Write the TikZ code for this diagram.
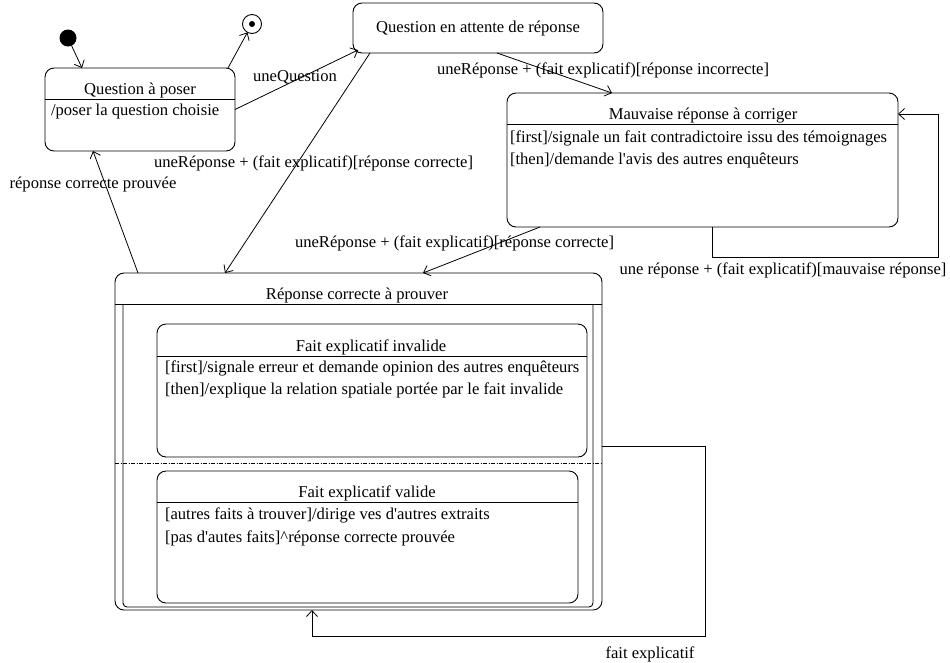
\documentclass[tikz,border=0pt]{standalone}
\usepackage{fontspec}
\setmainfont{Liberation Serif}
\usetikzlibrary{arrows.meta,calc}
\newcommand{\apos}{\textquotesingle}
\begin{document}
\begin{tikzpicture}[x=1pt,y=-1pt,
  every node/.style={inner sep=0pt, outer sep=0pt},
  lbl/.style={font=\fontsize{16.6}{19}\selectfont},
  statebox/.style={draw, rounded corners=9pt, line width=0.9pt},
  sepline/.style={line width=0.9pt},
  arr/.style={-{Straight Barb[length=6pt,width=11pt]}, line width=0.8pt},
  conn/.style={line width=0.8pt}]
\useasboundingbox (0,0) rectangle (950,662);
\fill[white] (0,0) rectangle (950,662);

% states
\node[statebox, minimum width=190pt, minimum height=83pt] (qp) at (140,109.5) {};
\node[statebox, minimum width=250pt, minimum height=50pt] (qa) at (478,28) {};
\node[statebox, minimum width=391pt, minimum height=134pt] (mr) at (702.5,160) {};
\node[statebox, minimum width=487pt, minimum height=337pt] (rc) at (358.5,441.5) {};
\node[statebox, minimum width=430pt, minimum height=133pt] (fi) at (372,390.5) {};
\node[statebox, minimum width=421pt, minimum height=132pt] (fv) at (367.5,537) {};

\node[circle, fill=black, minimum size=17pt] (init) at (68,38) {};
\node[circle, draw, line width=0.9pt, minimum size=19pt] (fin) at (252,24) {};
\node[circle, fill=black, minimum size=6pt] (findot) at (252,24) {};

% separators
\draw[sepline] (qp.west |- 0,99) -- (qp.east |- 0,99);
\draw[sepline] (mr.west |- 0,124) -- (mr.east |- 0,124);
\draw[sepline] (rc.west |- 0,304) -- (rc.east |- 0,304);
\draw[sepline] (fi.west |- 0,356) -- (fi.east |- 0,356);
\draw[sepline] (fv.west |- 0,502) -- (fv.east |- 0,502);
\draw[line width=0.8pt, dash pattern=on 4pt off 1.5pt on 1pt off 1.5pt] (rc.west |- 0,463) -- (rc.east |- 0,463);
\draw[line width=0.9pt, rounded corners=4pt] ($(rc.north west)+(8,31)$) |- ($(rc.south east)+(-9,-3)$) -- ($(rc.north east)+(-9,31)$);

% texts
\node[lbl] (qpt) at (140,90) {Question à poser};
\node[lbl, anchor=west] (qpb) at (51,112) {/poser la question choisie};
\node[lbl] (qat) at (478,28) {Question en attente de réponse};
\node[lbl] (mrt) at (703,116) {Mauvaise réponse à corriger};
\node[lbl, anchor=west] (mrb1) at (510,138) {[first]/signale un fait contradictoire issu des témoignages};
\node[lbl, anchor=west] (mrb2) at (510,160) {[then]/demande l\apos avis des autres enquêteurs};
\node[lbl] (rct) at (357,295) {Réponse correcte à prouver};
\node[lbl] (fit) at (371,347) {Fait explicatif invalide};
\node[lbl, anchor=west] (fib1) at (165,368) {[first]/signale erreur et demande opinion des autres enquêteurs};
\node[lbl, anchor=west] (fib2) at (165,390) {[then]/explique la relation spatiale portée par le fait invalide};
\node[lbl] (fvt) at (367,493) {Fait explicatif valide};
\node[lbl, anchor=west] (fvb1) at (165,515) {[autres faits à trouver]/dirige ves d\apos autres extraits};
\node[lbl, anchor=west] (fvb2) at (165,538) {[pas d\apos autes faits]\^{}réponse correcte prouvée};

% connectors
\draw[arr] (init) -- ($(qp.north west)+(37,0)$);
\draw[arr] ($(qp.north east)+(-7,0)$) -- (fin);
\draw[arr] (qp.east) -- ($(qa.south west)+(5,-3)$);
\draw[arr] ($(qa.south west)+(17,0)$) -- ($(rc.north west)+(110,0)$);
\draw[arr] ($(qa.south west)+(144,0)$) -- ($(mr.north west)+(105,0)$);
\draw[arr] ($(mr.south west)+(33,0)$) -- ($(rc.north west)+(308,0)$);
\draw[arr] ($(mr.south west)+(205,0)$) -- ++(0,30) -| ($(mr.north east)+(40,21)$) -- ($(mr.north east)+(0,21)$);
\draw[arr] ($(rc.north west)+(23,0)$) -- ($(qp.south west)+(48,0)$);
\draw[arr] ($(rc.north east)+(0,173)$) -- ++(103,0) |- ($(rc.south west)+(197,26)$) -- ($(rc.south west)+(197,0)$);

% connector labels
\node[lbl] (l1) at (295,77) {uneQuestion};
\node[lbl, anchor=west] (l2) at (154,163) {uneRéponse + (fait explicatif)[réponse correcte]};
\node[lbl, anchor=west] (l3) at (437,70) {uneRéponse + (fait explicatif)[réponse incorrecte]};
\node[lbl, anchor=west] (l4) at (295,243) {uneRéponse + (fait explicatif)[réponse correcte]};
\node[lbl] (l5) at (783,270) {une réponse + (fait explicatif)[mauvaise réponse]};
\node[lbl] (l6) at (93,184) {réponse correcte prouvée};
\node[lbl] (l7) at (650,654) {fait explicatif};
\end{tikzpicture}
\end{document}
